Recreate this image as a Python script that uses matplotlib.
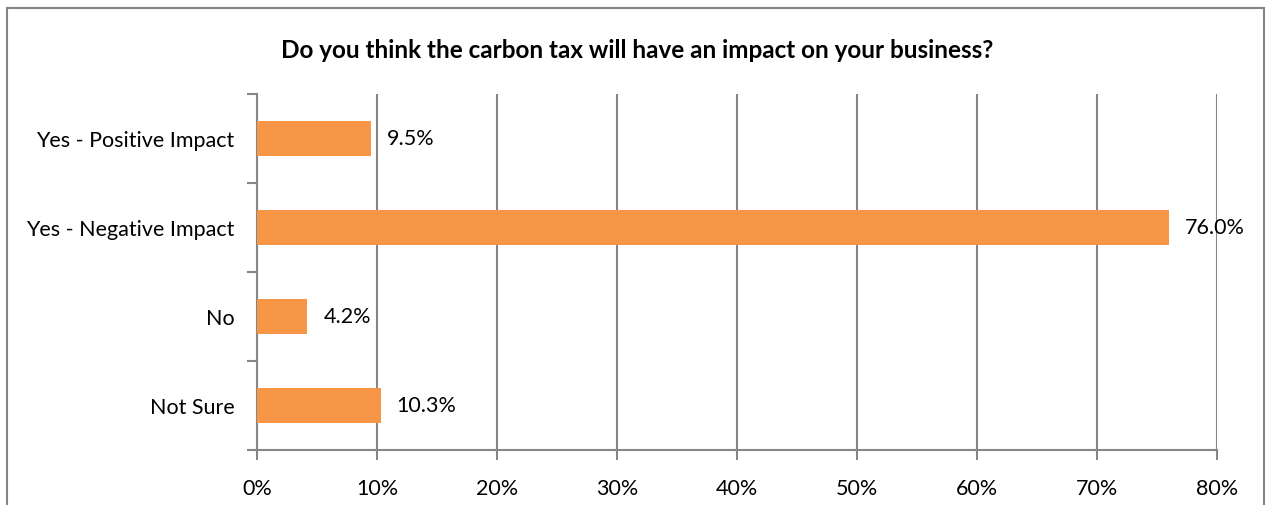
import numpy as np
from matplotlib import pyplot as plt
from matplotlib.patches import Rectangle

categories = ['Yes - Positive Impact', 'Yes - Negative Impact', 'No', 'Not Sure']
values = [9.5, 76.0, 4.2, 10.3]
xticks = [0, 10, 20, 30, 40, 50, 60, 70, 80]

grey = '#868686'
orange = '#F79646'
plt.rcParams['font.family'] = ['Lato', 'DejaVu Sans']
fs = 15.5

fig = plt.figure(figsize=(12.67, 5.06), dpi=100)
ax = fig.add_axes([0.2028, 0.1087, 0.7577, 0.7036])

# outer chart frame
fig.patches.append(Rectangle((7/1267, -0.05), 1257/1267, 1.05 - 9/506,
                             transform=fig.transFigure, fill=False,
                             edgecolor=grey, linewidth=1.5))

y = np.arange(len(categories))
ax.barh(y, values, height=0.4, color=orange, zorder=3)
for yi, v in zip(y, values):
    ax.text(v + 1.35, yi, f'{v:.1f}%', va='center', ha='left', fontsize=fs, zorder=4)

ax.set_xlim(0, 80)
ax.set_ylim(3.5, -0.5)
ax.set_xticks(xticks)
ax.set_xticklabels([f'{t}%' for t in xticks], fontsize=fs)
ax.set_yticks(y)
ax.set_yticklabels(categories, fontsize=fs)
ax.set_yticks(np.arange(-0.5, 4, 1), minor=True)

ax.tick_params(axis='y', which='major', length=0, pad=16)
ax.tick_params(axis='y', which='minor', length=7, width=1.5, color=grey)
ax.tick_params(axis='x', length=7, width=1.5, color=grey, pad=13)

ax.grid(axis='x', color=grey, linewidth=1.5, zorder=0)
ax.set_axisbelow(True)
for s in ['top', 'right']:
    ax.spines[s].set_visible(False)
for s in ['left', 'bottom']:
    ax.spines[s].set_color(grey)
    ax.spines[s].set_linewidth(1.5)

fig.text(637/1267, 1 - 50/506, 'Do you think the carbon tax will have an impact on your business?',
         ha='center', va='center', fontsize=17.5, fontweight='bold')

fig.savefig('out.png', dpi=100)
